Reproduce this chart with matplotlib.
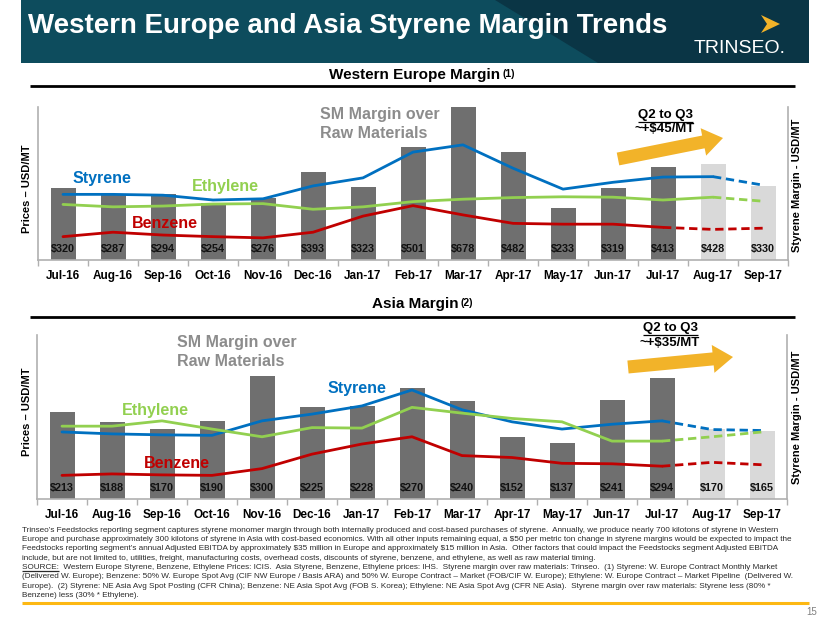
import matplotlib
matplotlib.use("Agg")
import matplotlib.pyplot as plt
from matplotlib.patches import Polygon, FancyArrow
from matplotlib import font_manager
import numpy as np

plt.rcParams['font.family'] = ['Liberation Sans', 'DejaVu Sans']
plt.rcParams['text.parse_math'] = False

# ---------------- data ----------------
months = ["Jul-16", "Aug-16", "Sep-16", "Oct-16", "Nov-16", "Dec-16", "Jan-17",
          "Feb-17", "Mar-17", "Apr-17", "May-17", "Jun-17", "Jul-17", "Aug-17", "Sep-17"]

we_margin = [320, 287, 294, 254, 276, 393, 323, 501, 678, 482, 233, 319, 413, 428, 330]
we_styrene = [1165, 1165, 1155, 1095, 1110, 1270, 1370, 1690, 1780, 1490, 1230, 1315, 1380, 1385, 1280]
we_ethylene = [1040, 1010, 1020, 1045, 1050, 980, 1010, 1075, 1105, 1125, 1135, 1130, 1095, 1130, 1080]
we_benzene = [640, 695, 660, 640, 625, 695, 895, 1025, 910, 805, 795, 795, 755, 730, 745]
we_last_solid = [13, 13, 12]          # styrene, ethylene, benzene

asia_margin = [213, 188, 170, 190, 300, 225, 228, 270, 240, 152, 137, 241, 294, 170, 165]
asia_styrene = [1075, 1055, 1045, 1040, 1190, 1260, 1345, 1510, 1305, 1180, 1105, 1155, 1190, 1100, 1090]
asia_ethylene = [1135, 1135, 1190, 1105, 1025, 1120, 1115, 1330, 1270, 1215, 1180, 980, 980, 1025, 1075]
asia_benzene = [625, 640, 630, 625, 695, 845, 950, 1025, 830, 810, 750, 745, 720, 760, 735]
asia_last_solid = [12, 12, 12]

n_actual = 13   # months with actual (dark) bars

footnote_lines = [
    "Trinseo\u2019s Feedstocks reporting segment captures styrene monomer margin through both internally produced and cost-based purchases of styrene.  Annually, we produce nearly 700 kilotons of styrene in Western",
    "Europe and purchase approximately 300 kilotons of styrene in Asia with cost-based economics. With all other inputs remaining equal, a $50 per metric ton change in styrene margins would be expected to impact the",
    "Feedstocks reporting segment\u2019s annual Adjusted EBITDA by approximately $35 million in Europe and approximately $15 million in Asia.  Other factors that could impact the Feedstocks segment Adjusted EBITDA",
    "include, but are not limited to, utilities, freight, manufacturing costs, overhead costs, discounts of styrene, benzene, and ethylene, as well as raw material timing.",
    "SOURCE:  Western Europe Styrene, Benzene, Ethylene Prices: ICIS.  Asia Styrene, Benzene, Ethylene prices: IHS.  Styrene margin over raw materials: Trinseo.  (1) Styrene: W. Europe Contract Monthly Market",
    "(Delivered W. Europe); Benzene: 50% W. Europe Spot Avg (CIF NW Europe / Basis ARA) and 50% W. Europe Contract \u2013 Market (FOB/CIF W. Europe); Ethylene: W. Europe Contract \u2013 Market Pipeline  (Delivered W.",
    "Europe).  (2) Styrene: NE Asia Avg Spot Posting (CFR China); Benzene: NE Asia Spot Avg (FOB S. Korea); Ethylene: NE Asia Spot Avg (CFR NE Asia).  Styrene margin over raw materials: Styrene less (80% *",
    "Benzene) less (30% * Ethylene).",
]

# ---------------- style ----------------
BLUE, GREEN, RED = "#0070C0", "#92D050", "#C00000"
DARK_BAR, LIGHT_BAR = "#6f6f6f", "#d9d9d9"
SPINE = "#b0b0b0"
GOLD = "#F2B329"

W, H = 830, 623
fig = plt.figure(figsize=(W / 100, H / 100), dpi=100)


def rect(x0, y0, x1, y1):
    return [x0 / W, 1 - y1 / H, (x1 - x0) / W, (y1 - y0) / H]


def chart(box, margin, sty, eth, ben, last_solid, mlim, plim):
    axb = fig.add_axes(rect(*box))
    x = np.arange(len(months))
    cols = [DARK_BAR if i < n_actual else LIGHT_BAR for i in x]
    axb.bar(x, margin, width=0.5, color=cols, zorder=1)
    for xi, v in zip(x, margin):
        axb.annotate(f"${v}", (xi, 0), xytext=(0, 11), textcoords="offset pixels",
                     ha="center", va="center", fontsize=7.8, fontweight="bold",
                     color="#111111", zorder=3)
    axb.set_xlim(-0.5, len(months) - 0.5)
    axb.set_ylim(0, mlim)
    axb.set_yticks([])
    axb.set_xticks(x)
    axb.set_xticklabels(months, fontsize=8.5, fontweight="bold")
    axb.tick_params(axis="x", which="major", length=0, pad=7)
    axb.set_xticks(np.arange(-0.5, len(months) + 0.5, 1), minor=True)
    axb.tick_params(axis="x", which="minor", length=4, color=SPINE, width=1)
    for s in ("left", "right", "bottom"):
        axb.spines[s].set_color(SPINE)
        axb.spines[s].set_linewidth(1.2)
    axb.spines["top"].set_visible(False)
    axb.set_facecolor("none")

    axl = axb.twinx()
    axl.set_ylim(*plim)
    axl.set_yticks([])
    for s in axl.spines.values():
        s.set_visible(False)
    for vals, col, ls in zip((sty, eth, ben), (BLUE, GREEN, RED), last_solid):
        axl.plot(x[:ls + 1], vals[:ls + 1], color=col, lw=2.0, solid_capstyle="round", zorder=2)
        axl.plot(x[ls:], vals[ls:], color=col, lw=2.0, ls=(0, (3, 1.7)), zorder=2)
    return axb, axl


chart((38, 107, 788, 260), we_margin, we_styrene, we_ethylene, we_benzene,
      we_last_solid, 680, (350, 2250))
chart((37, 335, 787, 499), asia_margin, asia_styrene, asia_ethylene, asia_benzene,
      asia_last_solid, 400, (380, 2080))

# ---------------- overlay (pixel coordinates) ----------------
ov = fig.add_axes([0, 0, 1, 1], zorder=10)
ov.set_xlim(0, W)
ov.set_ylim(H, 0)
ov.axis("off")

# banner
ov.add_patch(Polygon([(21, 0), (809, 0), (809, 63), (21, 63)], closed=True,
                     facecolor="#0d4c5d", edgecolor="none"))
ov.add_patch(Polygon([(495, 0), (809, 0), (809, 63), (598, 63)], closed=True,
                     facecolor="#0a3545", edgecolor="none"))

try:
    font_manager.findfont("Liberation Sans Narrow", fallback_to_default=False)
    title_kw = dict(family=["Liberation Sans Narrow", "DejaVu Sans"], fontsize=24.5)
except Exception:
    title_kw = dict(fontsize=19.5)
title = ov.text(28, 33, "Western Europe and Asia Styrene Margin Trends", color="white",
                fontweight="bold", ha="left", va="baseline", **title_kw)
ov.add_patch(Polygon([(761, 15), (780, 24), (761, 33), (767, 24)], closed=True,
                     facecolor=GOLD, edgecolor="none"))
ov.text(740, 53, "TRINSEO.", color="white", fontsize=14, ha="center", va="baseline")


# section headings
def heading(text, yb, yline):
    t = ov.text(415, yb, text, fontsize=11, fontweight="bold", ha="center", va="baseline")
    ov.plot([30, 795], [yline, yline], color="black", lw=2, solid_capstyle="butt")
    return t


t1 = heading("Western Europe Margin", 79, 86)
t2 = heading("Asia Margin", 308, 317)


# series labels
def lab(x, y, s, c, size=11.5, ha="center"):
    return ov.text(x, y, s, color=c, fontsize=size, fontweight="bold", ha=ha, va="center")


lab(102, 178, "Styrene", BLUE)
lab(225, 186, "Ethylene", GREEN)
lab(165, 224, "Benzene", RED)
lab(320, 115, "SM Margin over", "#8c8c8c", ha="left")
lab(320, 134, "Raw Materials", "#8c8c8c", ha="left")

lab(357, 389, "Styrene", BLUE)
lab(155, 411, "Ethylene", GREEN)
lab(177, 464, "Benzene", RED)
lab(177, 343, "SM Margin over", "#8c8c8c", ha="left")
lab(177, 362, "Raw Materials", "#8c8c8c", ha="left")

q1 = lab(665, 115, "Q2 to Q3", "black", size=9.5)
lab(665, 129.5, "~+$45/MT", "black", size=9.5)
q2 = lab(670, 328.5, "Q2 to Q3", "black", size=9.5)
lab(670, 343, "~+$35/MT", "black", size=9.5)


# arrows
def arrow(x0, y0, x1, y1):
    ov.add_patch(FancyArrow(x0, y0, x1 - x0, y1 - y0, width=13, head_width=28,
                            head_length=20, length_includes_head=True,
                            facecolor=GOLD, edgecolor="none"))


arrow(618, 159, 723, 138)
arrow(628, 367, 733, 357)

# axis titles
for yc in (189, 412):
    ov.text(27, yc, "Prices \u2013 USD/MT", rotation=90, fontsize=8, fontweight="bold",
            ha="center", va="center")
for yc in (185, 417):
    ov.text(797, yc, "Styrene Margin - USD/MT", rotation=90, fontsize=8, fontweight="bold",
            ha="center", va="center")

# footnote
fs = 5.6
foot = []
for i, line in enumerate(footnote_lines):
    foot.append(ov.text(22, 530 + 9.4 * i, line, fontsize=fs, color="#2a2a2a",
                        ha="left", va="center"))
ov.plot([22, 809], [603, 603], color="#FDB813", lw=2.2, solid_capstyle="butt")
ov.text(817, 612, "15", fontsize=7, color="#7f7f7f", ha="right", va="center")

# measure and finalize
fig.canvas.draw()
r = fig.canvas.get_renderer()
w1 = foot[0].get_window_extent(r).width
scale = 756.0 / w1
for t in foot:
    t.set_fontsize(fs * scale)
src = ov.text(22, 530 + 9.4 * 4, "SOURCE:", fontsize=fs * scale, alpha=0, ha="left", va="center")

# fit title width to reference (28 .. 668 px)
tw = title.get_window_extent(r).width
title.set_fontsize(title.get_fontsize() * 640.0 / tw)

fig.canvas.draw()
inv = ov.transData.inverted()


def underline(t, y, color):
    bb = t.get_window_extent(r)
    (xa, _), (xb, _) = inv.transform([(bb.x0, bb.y0), (bb.x1, bb.y0)])
    ov.plot([xa, xb], [y, y], color=color, lw=0.9, solid_capstyle="butt")


underline(q1, 121.5, "black")
underline(q2, 334.5, "black")
underline(src, 571, "#2a2a2a")

# superscripts
for t, sup in ((t1, "(1)"), (t2, "(2)")):
    bb = t.get_window_extent(r)
    (xb, yb), = inv.transform([(bb.x1, bb.y1)])
    ov.text(xb + 2, yb + 1, sup, fontsize=7.5, fontweight="bold", ha="left", va="top")

fig.savefig("out.png", dpi=100)
